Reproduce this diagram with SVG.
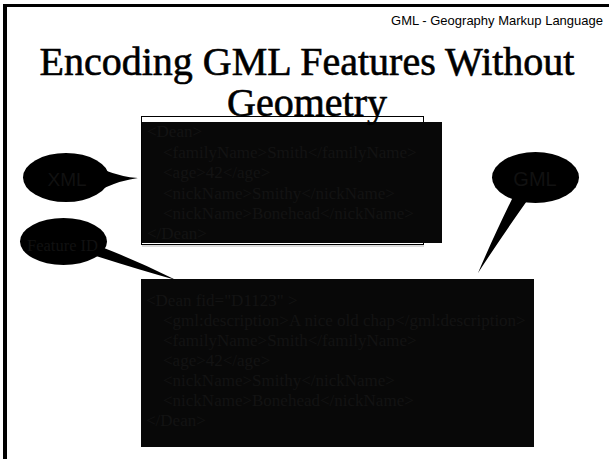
<svg xmlns="http://www.w3.org/2000/svg" width="609" height="459" viewBox="0 0 609 459">
<style>
.code{font-family:"Liberation Serif","Times New Roman",serif;font-size:17px;fill:#131313}
.callout{fill:#000}
.ctext{fill:#111}
.sans{font-family:"Liberation Sans",Arial,sans-serif}
.serif{font-family:"Liberation Serif","Times New Roman",serif}
.title{font-family:"Liberation Serif","Times New Roman",serif;font-size:40px;fill:#000;stroke:#000;stroke-width:0.6}
</style>
<rect x="0" y="0" width="609" height="459" fill="#fff"/>
<g id="frame">
<line x1="5" y1="5" x2="5" y2="459" stroke="#000" stroke-width="4"/>
<line x1="3" y1="5.5" x2="609" y2="5.5" stroke="#000" stroke-width="3"/>
</g>
<g id="xml-box">
<rect x="141.5" y="116.5" width="282" height="128" fill="#fff" stroke="#000" stroke-width="1"/>
<line x1="142" y1="246" x2="424" y2="246" stroke="#bbb" stroke-width="1"/>
<rect x="142" y="122" width="300" height="121" fill="#080808"/>
<text class="code" x="147" y="137">&lt;Dean&gt;</text>
<text class="code" x="163" y="158">&lt;familyName&gt;Smith&lt;/familyName&gt;</text>
<text class="code" x="163" y="178">&lt;age&gt;42&lt;/age&gt;</text>
<text class="code" x="163" y="198.5">&lt;nickName&gt;Smithy&lt;/nickName&gt;</text>
<text class="code" x="163" y="219">&lt;nickName&gt;Bonehead&lt;/nickName&gt;</text>
<text class="code" x="147" y="239">&lt;/Dean&gt;</text>
</g>
<g id="header">
<text x="603" y="25" text-anchor="end" class="sans" font-size="13" fill="#000">GML - Geography Markup Language</text>
<text x="307" y="75" text-anchor="middle" class="title">Encoding GML Features Without</text>
<text x="307" y="116" text-anchor="middle" class="title">Geometry</text>
</g>
<g id="gml-box">
<rect x="141" y="279" width="393" height="168" fill="#080808"/>
<text class="code" x="146" y="306">&lt;Dean fid="D1123" &gt;</text>
<text class="code" x="163" y="326">&lt;gml:description&gt;A nice old chap&lt;/gml:description&gt;</text>
<text class="code" x="163" y="346">&lt;familyName&gt;Smith&lt;/familyName&gt;</text>
<text class="code" x="163" y="366">&lt;age&gt;42&lt;/age&gt;</text>
<text class="code" x="163" y="386">&lt;nickName&gt;Smithy&lt;/nickName&gt;</text>
<text class="code" x="163" y="406">&lt;nickName&gt;Bonehead&lt;/nickName&gt;</text>
<text class="code" x="146" y="426">&lt;/Dean&gt;</text>
</g>
<g id="connectors">
<path class="callout" d="M104,170 Q122,177 138,178 Q122,180 104,188 Z"/>
<path class="callout" d="M96,256 Q140,270 176,280 Q140,262 104,248 Z"/>
<path class="callout" d="M512,199 Q492,240 478,273 Q502,236 529,198 Z"/>
</g>
<g id="callout-xml">
<ellipse class="callout" cx="66" cy="177.5" rx="43" ry="24.5"/>
<text class="sans ctext" x="67" y="186" text-anchor="middle" font-size="19">XML</text>
</g>
<g id="callout-featureid">
<ellipse class="callout" cx="63.5" cy="241.5" rx="43.5" ry="23.5"/>
<text class="serif ctext" x="62.5" y="251" text-anchor="middle" font-size="16.5">Feature ID</text>
</g>
<g id="callout-gml">
<ellipse class="callout" cx="535.5" cy="177.5" rx="43.5" ry="25.5"/>
<text class="sans ctext" x="535" y="186" text-anchor="middle" font-size="20">GML</text>
</g>
</svg>
